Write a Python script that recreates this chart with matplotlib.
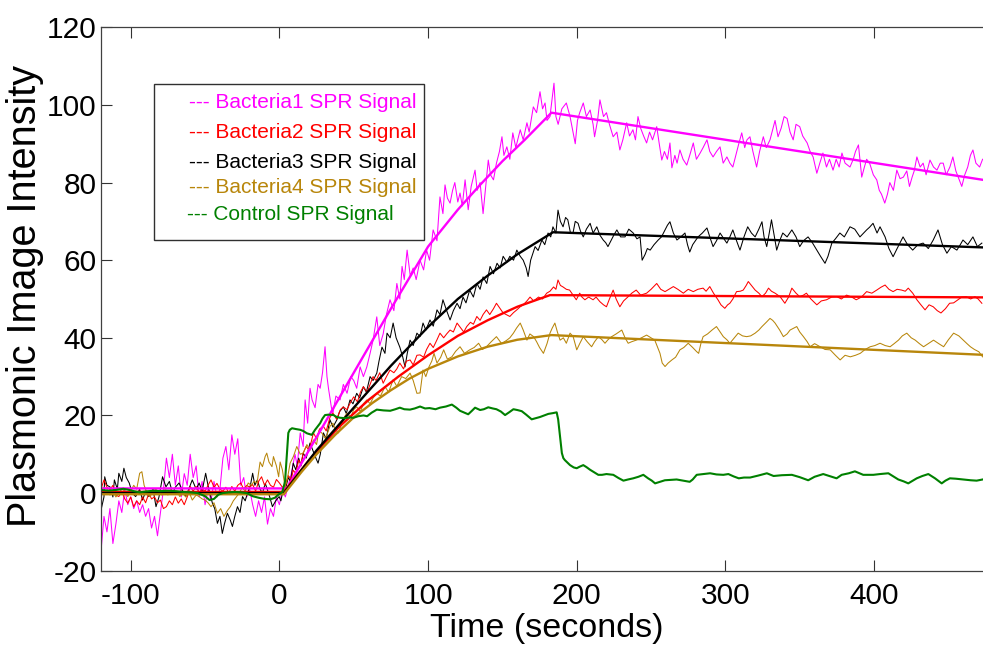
import numpy as np
import matplotlib
matplotlib.use("Agg")
import matplotlib.pyplot as plt
from matplotlib.patches import Rectangle
from matplotlib import font_manager

plt.rcParams["axes.unicode_minus"] = False

# ---------------- data ----------------
b1_t = [-120,-118,-116,-114,-112,-110,-108,-106,-104,-102,-100,-98,-96,-94,-92,-90,-88,-86,-84,-82,-80,-78,-76,-74,-72,-70,-68,-66,-64,-62,-60,-58,-56,-54,-52,-50,-48,-46,-44,-42,-40,-38,-36,-34,-32,-30,-28,-26,-24,-22,-20,-18,-16,-14,-12,-10,-8,-6,-4,-2,0,2,4,
        6,8,10.5,12,14,16,17.3,19,20.6,22,24,26,27.4,29,30.7,32,33,35,36,38,40.8,43,45.5,48,50,52,54.3,56.5,58.8,61,63,65.5,67.5,69.8,72,74.4,77,79,81,82.5,84,85.9,88,90,92,94.6,97,99,101,103.4,106,108,110,111.4,113,114.8,116.5,118,120,121.5,123,124.9,127,129,131.6,133,135,137,139,140.5,142,144,146,148,149.7,151,153,155,157,159,162,164,166.5,168,170.8,173,175.3,177,178.7,180,182,184.7,186,187.5,190,193,195.5,197,199,200.5,202,204.4,206.5,209,211,212,214,215.6,218,220,222,224.5,227,229,231,233.6,235.5,237.8,239.5,241.2,243,245,247,249,251,253.8,255.5,257.2,259,261,262.7,264,266,267.5,269.4,271.5,274,276,278.4,280.5,283,285,287.6,289.5,291.7,294,296.4,298.5,301,303,305,307,309,311,313,314.5,316.5,318.5,321,323,325.5,327.5,330,332,333.4,335.4,337.5,339.5,341.5,343.5,345.6,347.5,350,352,355,357,359,361.5,363.5,365.6,368,370,372.4,374.5,376.5,378.4,380.5,383.8,386,387.5,389.5,391.7,393.5,395,397,399.5,401.8,403.5,405,407.2,409,410.6,413,415.3,417.5,419.7,422,423.8,425.6,427,428.8,431,433,435,437.6,440,442.3,444.5,446.5,448.5,451,453,455,457,459,461,463,464.8,466.5,468.5,471,473]
b1_v = [-15,-6,-10,-4,-13,-8,-2,-5,1,-3,-1,-4,-2,-5,-3,-6,-4,-9,-6,-11,-5,1,9,4,10,2,7,-1,5,2,10,4,7,-1,3,-3,1,-2,3,-1,1,9,12,6,15,10,14,2,4,-1,1,-3,-6,-2,-5,-1,-8,-4,-6,-1,-3,1,-1,
        2,5,10,7,15.5,12,24,18,27,24,22,28,27,31,37.7,30,27,22,20.6,25,24,28,25.7,30,29,27,32.5,30,32.5,36,39.4,45.4,38,41,46,49.8,47,54,50,58.4,55,62.6,56,58,55,60,57.5,62.6,60,67.8,65,76.3,72,79.4,76,74.7,78,80,75,77.3,74,80.7,73,79,83.2,78,80,72,80,85.8,82,80.7,85,88,91.8,87,89.2,86,92.8,89,93.6,91,95.4,93,99.5,98,103.4,99,100.5,96,97,105.6,97,95,99,100.5,97,94,90,96,98,100.5,97,98.7,95,91.8,96,101.3,97,98,95,91.8,93,88.4,91,95.4,92,93.6,91,97,94,92,90.2,93,91,94.4,90,85.8,88,86,90.2,83.8,87,85,88.4,86,84.5,87,90.2,86,87.6,89,91,88,86.6,88,89.2,85,86.6,85,84,87,90,92.8,89,91,91.8,88,84,88,91.8,89,91,94,96,91.8,94,97,96.5,93,91,95,94.4,92,90.2,88,86.6,82.4,85,87.6,84,86,83.2,86,84,87.6,85,84,86,88,89.7,81.4,84,86,85,82,80.7,78,77,74.7,77,80,78,83.2,81,81.4,83,79,81.4,83,86.6,84,85,82,85.8,84,83.2,85,85,82,84,86.6,83,81,79,82,84,87,88.4,85,84,86]

b2_t = [-120,-118,-116,-114,-112,-110,-108,-106,-104,-102,-100,-98,-96,-94,-92,-90,-87.8,-86,-84,-82,-80,-78,-76,-74,-72,-70,-68,-66,-64,-62,-60,-58,-56,-54,-52,-50,-48,-46,-44,-42,-40,-38,-36,-34,-32,-30,-28,-26,-24,-22,-20,-18,-16,-14,-12,-10,-8,-6,-4,-2,0,2,
        4,6,8,9.3,11,13,14.5,16,18,20,22.9,25,27,29.6,31.5,34,36,38.5,41,43,45.5,48,50,52.5,54.5,56.5,59,61,63,65,67.5,69.8,72,74.4,77,79,81,83.5,85.5,87.9,90,92.5,94.6,97,99,101.3,103.5,106,108,110.5,112.5,114.8,117,119.5,122,124,126,128.5,130.5,132.8,135,137,139.3,141.5,144,146,148.5,150.5,152.5,155,157.5,159.7,162,164,166.5,168.6,171,174.3,177,179.8,182,184.4,186,187.4,189,190.8,193,195.2,197.5,199.7,202,203.5,205.5,208,211,213,215.6,218,220,222,224.5,226.5,229,231.5,234.6,237,240,243,247,250,253.8,256.5,259.4,262,265,268,271.7,275,278.4,281.5,285,287,289.5,292,295,297,299.6,301.5,303,305,307.5,310,312,314,315.4,317.5,320,322.5,324.6,327,329,331,333.4,336.8,340,342.5,344.7,347.5,350,352.5,354.5,357.5,361.5,364.5,368,371.5,375,378,381.5,385,388,391.5,395,398.5,401.8,404.5,407.4,410,412.8,415.5,418.5,421,423,426,428.8,431.5,434.3,437,439.8,442.5,445,448,450.8,453.5,456.5,459,462,465,467.8,470,472.5]
b2_v = [1,3.4,1.5,0.8,2,-0.5,-0.9,0.5,-1.5,-2.6,-1,-3.5,-2,-3,-1,-2.5,0,-1.5,-1,-2.5,-1.8,-4,-3.5,-2,-3,-1,-2.6,-1.5,-3,-1,1.7,0.5,1.7,0,1,0.5,2,3.4,1.5,2.5,1,0.5,1.5,0,1.7,0.5,2,2.6,1,2,1.5,2.2,0.5,3,4.2,2,3.4,2,1.5,3.5,2.6,1.5,
        2,4.5,3.5,5.9,5,8.5,7.5,10.3,12,11,15.5,14,16.5,17.2,16,19.5,20.6,19,21.5,22.2,21.5,23.5,24.8,23.5,26,27.4,26,28,30,29,31,28.3,30,31.7,31,32,33.5,32,34,34.3,33,35.5,35.6,35,37,38.6,37.5,39.5,41.2,40,41,42,41.5,43.8,42.5,41.5,42.9,44,43.5,45.5,44.5,46,47.2,46,47.5,48.9,47.5,46.4,46,45.5,46.5,47.2,48,48.5,49.5,50.5,49.5,50.5,50,51.5,52,53.1,52.5,54.9,53.5,53.1,52.5,52.3,51,49.8,51.5,50.5,49.8,50.5,49.8,50.5,49.3,48.5,48,50,52.3,50,48,49.5,50.6,51.5,52.3,51,51.5,52.5,54,52.5,51.9,52.5,53.2,52.5,51.5,52.5,51.9,52.5,52.8,52,53.2,51.5,49.8,48.5,47.6,48.5,48.9,50,51.9,52,52.3,53.5,54.5,53.5,52.3,51.5,50.6,51.5,52.8,52,51.5,50.6,48.9,50.5,52.8,51.5,50.6,51,51.5,50,48.5,49.5,49.8,50.5,50.6,50,51,50.5,49.8,50.5,51.9,51.5,52.3,53,53.6,52.5,51.9,52.5,52.3,52,52.8,51.5,49.8,48.5,47.2,48.5,48,47,46.4,47.5,48.9,49,49.8,50.5,50.6,50,50.6,50,48.9]

b3_t = [-120,-118,-117.5,-116,-114,-112,-111,-109,-108,-106,-104.6,-103,-101,-99,-96.7,-94,-92,-90,-87.8,-85,-83,-81,-78.6,-76.3,-74,-71.9,-70,-67.5,-65,-63,-61,-58.6,-56,-54,-52,-49.6,-47.5,-45,-43.5,-41.7,-40,-38.4,-37,-35,-33,-31.6,-30,-28.2,-26.5,-24.8,-23,-21.5,-19.5,-18,-16.5,-14.8,-13,-11.4,-9.5,-8,-6.5,-4.7,-2.5,-0.2,1,2.5,
        4,6,7.5,9.3,11,13,14.5,16,18,20.6,22.5,24,26,27.5,29.6,31.5,34,36,38.7,40.5,43,45,47.5,49.5,52,54,56.5,58.5,61,63,65.5,67,69,71,72.4,74.5,76.5,78.5,81,83,84.5,86,87.9,90,92.5,94.6,96.6,98.5,101.3,103.5,106,108,110,112.5,114.8,117,119.5,121.5,123.5,125.5,128,130.5,132.8,135,137,139.5,141.7,144,146.4,148.5,150.5,153,155,157.5,159.7,162,164,166,167.3,169,172,174,176.6,178.5,180.7,182.5,184,186,187.4,189,190.8,192.5,194,195.8,197.5,199,200.9,202.5,204.4,206.5,209,211,213.5,215.5,217.8,219.5,221,223,225,227,229.5,232.5,235,238,240.5,242.6,244,246,247.5,249.4,252,254.8,257,259.4,261,262.7,265,267.4,270,272.8,274.5,276,278,281.6,284.5,287.6,289.5,291.7,294,296.4,299,301,303,305,307.5,309.8,312.5,315,317.5,320,322.5,324.6,326,327.8,329.5,331,333,334.5,336.5,338.6,341.5,344.7,347.5,350,352.5,355.6,358.5,361.5,364,367,369,371.6,374,377,380,383.8,387,390.5,393,395,397,399.3,402,404,407.4,410,412.8,415.5,419.5,422.5,426,429.5,433,436.5,439.8,443,446,449,452,455.7,458,459.8,463,466.5,469.5,472.5]
b3_v = [-4.4,-1,4.2,2,1.6,-1,3.4,1,5.1,3,6.4,4,2.6,0,-0.9,1,-1.8,0.5,-0.9,1,-3.5,-1,4.2,1.6,3,0,1.5,2.6,0.5,-0.9,1,3.4,1,2.6,0.5,5.1,1,-2.7,-4,-7.8,-6,-10.4,-8,-5.2,-7,-8.6,-6,-3.5,-5,-0.9,-2,0,2,5.1,2,3.4,1,0,2.5,0.8,-1,-3.5,-2,-0.9,-2,0.8,
        1,4,3,7.7,6,9,7,10.3,9,12.9,11,9.5,7.7,10,15.5,14,18.9,17,18.9,21,22.2,20.5,24,23,25.7,24.5,27.4,26,30,29,30.9,34,37.6,36,41.2,40,43.8,40,37.6,35,32.5,36,39.4,38,41.2,40.3,43.8,42,44.6,43,47.2,46,49.8,47,44.6,47,48.9,47.5,50.5,49,52.3,50.5,54,52.5,55.7,54,58.4,56.5,59.2,58,61,59.5,61,60,62.6,61,60,58,55.8,60,63.5,62.5,65.2,64,67,66,68.6,67,72.9,70,68.6,71,70.4,67,67,70,69.5,67.5,66,68,69.5,67,68.6,66.5,65.2,64.5,63.5,65,66.5,67.8,66,66,68,67,65.5,66,60,61.5,63,62.6,64,65.2,66,67.8,69,69.9,67,65.2,66,67,64,62.1,64,66,67,68.3,66,63.5,65,67,65.5,64.4,66,67.8,65,62.6,66,68.6,67,66,68,69.9,66,63.5,67,70.4,66,62.6,65,67,66,67.8,66,63.5,65,66,64.5,62.6,61,59.2,61,64.4,65.5,67,66,68.6,68,66,67,67.8,68.5,69.5,67,68.6,66,63,60.9,63,66,64,62.6,64,64.4,63,65.2,67.8,64,61.8,63.5,62.6,64,65.2,64,66,63.5,64.4]

b4_t = [-120,-118,-116,-114,-112,-110,-108,-106,-104,-102,-100,-98,-96,-94,-92.5,-91,-89,-87,-85,-83,-81,-79,-77,-75,-73,-71,-69,-67,-65,-63,-61,-58.6,-56,-54,-52,-50,-48,-46,-44,-41.7,-39.5,-37.3,-35,-33,-31,-29,-27,-25,-23,-21,-19,-17,-15,-13,-11.4,-9.6,-8.5,-7,-5,-4,-2,-0.5,0.5,2,3.8,
        5.5,7.2,9.5,11.7,14,16,18.5,20.5,22.9,25,26.5,28.5,31,34,36,37.5,39.7,42,43.5,45.5,48,50,52,54.5,56.5,58.8,61,63,65.5,68,71,73.5,76.5,79,82.2,85,87.9,90,92.5,94.6,96.6,98.5,100.6,102.5,104,106,108.5,110.5,113,116,118.5,121.5,124.5,128,131,134,136.5,139.3,142.5,146,149.5,153,155,157.4,159.5,162,164,166.5,168.5,171,173,175,177.6,180,182,183.5,185.3,187,188.8,191,193,195.5,197.6,200,202,204.4,207,210,212,214.6,217,219,221,223.5,226.5,230.3,232.5,234.6,237,240,243.5,247,250,252.5,254.5,256,257.5,259.4,261.5,264,266.5,269.4,272,275,278,280.5,282,283.5,285,288,291,294,296.5,298.6,301,303,306,308.6,311.5,314.3,317,320,322.5,324.6,327.5,330,331.8,333.4,336.5,339,341.5,343.5,346,348,350,352.5,355,357,360,363.7,367,370.5,374,377.2,380.5,384,387.5,390.7,394,397.4,400.5,404,407.5,410.8,413.5,416.4,419,422,425,427.7,430.5,433.3,436.5,440,443.5,446.8,450,453.5,457,460,462.5,464.8,467.5,470.5,473]
b4_v = [0,1.5,1.1,-0.5,0.5,-1,0,1,0.5,-0.9,0.5,2,1,5.1,5.5,2,0,-0.9,0.5,1,0,-0.5,1.5,-0.5,1,0,0.5,-0.9,0,-1,0.5,-1.8,-0.5,-0.9,-1.5,-1.8,-2.5,-3.5,-2.5,-5.2,-4,-6,-4.5,-3.5,-2,-1,0,1.5,0.5,2.6,2,3,2.6,8,6.8,9.4,10.3,8,6.8,9.4,7,4.2,8,6,1.6,
        4,7.7,9.5,12,10,10.3,12.5,11,13.7,12.5,16,15.5,14,17.2,18,16.5,15.5,18,19.5,20.6,19.5,21.5,22.2,21,23,24,23,24.5,25.7,25,27.4,26,29.2,27.5,30,29.5,30.9,29,25.7,25.8,31.7,30,32.5,34,36,33.5,35,36.9,34.5,35.1,36.5,37.7,36,36.9,37.5,38.6,37,37.7,39,40.3,38.5,39.4,40,41.2,42.5,43.8,42,39.4,41,40.3,39,37.5,36,38.5,41.2,42.5,43.8,41.5,39.4,40,38.6,41.2,40.3,36.9,38.5,40.3,39,37.7,39,40.3,39.5,38.6,39.5,40.3,41,42,40,38.6,39,39.4,40,40.7,40,39.4,37.5,36,33.5,32.6,33.5,34.3,35,36.9,37.5,38.6,37.5,36.5,36,38.5,40.3,41,42,42.9,41.5,40.3,39.5,38.6,40,41.2,40.5,40.3,40.5,41.2,42,42.9,44,45,44.5,43.8,42,40.3,41,42,42.5,42.9,41.5,40.3,39,37.7,38.5,37.7,37,36.9,35.5,34.3,35.5,35.1,35.5,36,37,37.7,38,38.6,38,37.7,38.5,39.4,40.5,41.2,40,39.4,38.5,37.7,38.5,39.4,38.5,37.7,39.5,41.2,40.5,39.4,38.5,37.7,37,36.4,35.1]

ctrl_t = [-120,-115,-110,-105,-102,-98,-94,-90,-85,-80,-75,-70,-65,-60,-55,-50,-47,-44,-41,-38,-34,-30,-26,-22,-18,-14,-10,-6,-3,-1,2,3.8,5,6,7,8.5,11,14,16,18.5,21.8,24,27.4,29,30.7,33,36.4,38.5,40.8,44,47,49.8,53,56.6,59,62,65.5,70,74.5,78,81,84,87.8,91,94.6,98,101,105,108,112,116,119,121.5,124,127,129.5,131.6,135,137.5,140.5,143.5,146,149,151.8,154.5,157.4,160,163,166,169.7,172.5,175.3,178,180.9,184,186.5,187.5,188.8,190,191,192,195.5,198,200,202,204.4,206.5,209,211.5,214.5,217,220,222.5,224.6,228,231.4,234.5,238,241.5,244.8,248,250.5,252.7,256,259.3,263,267.2,271.5,276,278,280.7,285,289.7,294,298.6,302,305.5,309,312.5,316.6,322,327.9,332.4,338,344.7,350,355.7,360,365.8,370,374.8,378.2,383,387.1,392.7,399.5,404,409.6,413,416.3,420,423,426,428.7,432.5,436.5,441,445.5,448,451,455,460,465,469,473]
ctrl_v = [0.8,0.6,0.8,1.1,0.9,0.5,0.2,0.4,0.6,0.5,0.6,0.5,0.3,0.2,0,-0.8,-1.8,-1.5,-0.4,0,0.2,0.3,0.2,0,-0.8,-1.2,-1.5,-1.6,-1.2,-0.5,0.3,3,10,15.5,16.3,16.7,16.5,16.3,16,15.4,15,16.3,18,19.2,20.1,20.2,20.1,19.6,19.4,19.3,19.5,19.4,19.8,20,19.8,20.7,21.5,21.3,21.2,21.6,22,21.6,21.5,21.8,22.3,21.8,21.9,21.6,22,22.3,22.8,22,21.2,20.8,20.3,21.2,22,21.4,21.6,22.1,21.8,21.6,21,20.1,20.8,21.6,21.4,21.1,20.2,19,19.3,19.6,20,20.4,20.6,20.8,19,14.5,10.3,9,8.5,7.2,6.6,6.4,6.8,7.2,6.7,6,5.4,4.7,4.7,4.9,4.8,4.7,3.9,3.2,3.5,3.8,4.2,4.7,3.8,3.2,2.5,2.9,3.3,3.4,3.5,3.2,2.9,3.5,4.7,4.9,5.1,4.8,4.7,4.9,4.3,3.8,4,4,4.5,5.1,4.4,4.6,4.7,4.1,3.3,4.2,4.9,4.4,3.8,4.7,5.1,5.6,4.7,4.7,4.9,5.1,4.3,3.5,3,2.5,3.2,3.8,4.4,4.9,3.8,2.5,3.2,3.8,3.7,3.5,3.3,3.2,3.5]

# fitted curves
b1_fit_t = [-120, 5, 30, 50, 75, 100, 120, 135, 150, 165, 183, 480]
b1_fit_v = [1.2, 1.2, 17.7, 31, 47.5, 63.5, 73, 79.4, 85.5, 91, 98, 80.3]
b2_fit_t = [-120, 3, 20, 40, 60, 80, 100, 120, 140, 160, 182, 480]
b2_fit_v = [0.3, 0.3, 8.5, 17, 24, 30, 35.5, 40.5, 44.5, 48, 51, 50.4]
b3_fit_t = [-120, 3, 25, 50, 75, 100, 120, 140, 160, 184, 480]
b3_fit_v = [0, 0, 11, 22, 32.8, 42.8, 50, 56, 61.5, 67.2, 63.2]
b4_fit_t = [-120, 3, 15, 25, 37.5, 50, 62.5, 75, 87.5, 100, 120, 140, 160, 183, 480]
b4_fit_v = [-0.3, -0.3, 5.5, 10, 15, 19.5, 23.2, 26.5, 29.5, 32, 35.2, 37.7, 39.5, 40.7, 35.5]

legend_labels = ["--- Bacteria1 SPR Signal", "--- Bacteria2 SPR Signal", "--- Bacteria3 SPR Signal",
                 "--- Bacteria4 SPR Signal", "--- Control SPR Signal"]
xticks = [-100, 0, 100, 200, 300, 400]
yticks = [-20, 0, 20, 40, 60, 80, 100, 120]

C1, C2, C3, C4, C5 = "#FF00FF", "#FF0000", "#000000", "#B8860B", "#008000"

# ---------------- fonts ----------------
names = {f.name for f in font_manager.fontManager.ttflist}
if "Liberation Sans Narrow" in names:
    tickfam, ticksize = ["Liberation Sans Narrow", "DejaVu Sans"], 24
else:
    tickfam, ticksize = ["Liberation Sans", "DejaVu Sans"], 21.5
lblfont = ["Liberation Sans", "DejaVu Sans"]

# ---------------- figure ----------------
W, H = 983, 649
fig = plt.figure(figsize=(W / 100, H / 100), dpi=100)
L, R, T, B = 101, 993, 27.3, 570.7
ax = fig.add_axes([L / W, 1 - B / H, (R - L) / W, (B - T) / H])

thin = 0.75
ax.plot(b1_t, b1_v, color=C1, lw=thin)
ax.plot(b3_t, b3_v, color=C3, lw=thin)
ax.plot(b2_t, b2_v, color=C2, lw=thin)
ax.plot(b4_t, b4_v, color=C4, lw=thin)

fitw = 1.7
ax.plot(b1_fit_t, b1_fit_v, color=C1, lw=fitw)
ax.plot(b2_fit_t, b2_fit_v, color=C2, lw=fitw)
ax.plot(b3_fit_t, b3_fit_v, color=C3, lw=fitw)
ax.plot(b4_fit_t, b4_fit_v, color=C4, lw=fitw)
ax.plot(ctrl_t, ctrl_v, color=C5, lw=1.5)

ax.set_xlim(-120, 480)
ax.set_ylim(-20, 120)
ax.set_xticks(xticks)
ax.set_yticks(yticks)

for lab in ax.get_xticklabels() + ax.get_yticklabels():
    lab.set_fontfamily(tickfam)
    lab.set_fontsize(ticksize)
ax.tick_params(axis="both", direction="in", length=8, width=0.8, color="#333333",
               top=True, right=False)
ax.tick_params(axis="x", pad=8)
ax.tick_params(axis="y", pad=3)
for s in ax.spines.values():
    s.set_color("#404040")
    s.set_linewidth(0.9)

ax.set_xlabel("Time (seconds)", family=lblfont, fontsize=24.5, labelpad=2)
ax.set_ylabel("Plasmonic Image Intensity", family=lblfont, fontsize=28.5)
ax.yaxis.set_label_coords((44 - L) / (R - L), (B - 296) / (B - T))

# legend box (text-style legend)
fig.patches.append(Rectangle((154 / W, 1 - 240 / H), (424 - 154) / W, (240 - 84) / H,
                             transform=fig.transFigure, fill=True, facecolor="white",
                             edgecolor="#303030", lw=1.0, zorder=5))
ys = [102, 132, 162, 188, 214]
xs = [189, 189, 189, 189, 187]
cols = [C1, C2, C3, C4, C5]
for lbl, yy, xx, cc in zip(legend_labels, ys, xs, cols):
    fig.text(xx / W, 1 - yy / H, lbl, color=cc, family=lblfont, fontsize=15,
             ha="left", va="center", zorder=6)

fig.savefig("out.png", dpi=100)
